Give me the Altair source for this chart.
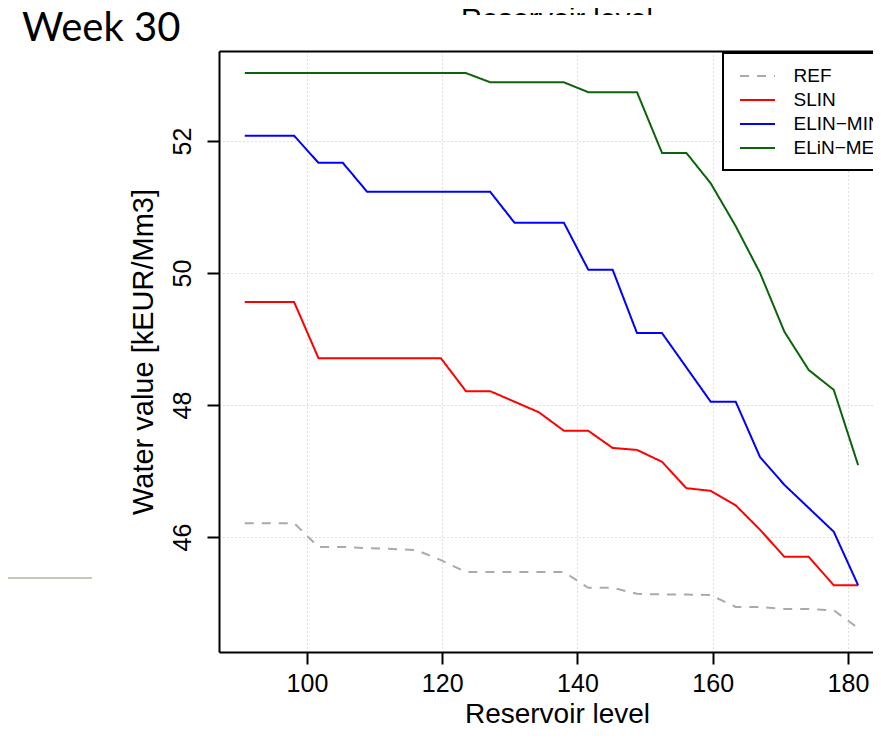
import altair as alt
import pandas as pd

# Reservoir levels (x) shared by all series
levels = [90.8, 94.4, 98.1, 101.7, 105.3, 108.9, 112.6, 116.2, 119.8, 123.5,
          127.1, 130.7, 134.3, 138.0, 141.6, 145.2, 148.8, 152.5, 156.1, 159.7,
          163.4, 167.0, 170.6, 174.2, 177.9, 181.5]

ref = [46.21, 46.21, 46.21, 45.85, 45.85, 45.83, 45.82, 45.80, 45.65, 45.47,
       45.47, 45.47, 45.47, 45.47, 45.23, 45.23, 45.14, 45.13, 45.13, 45.12,
       44.94, 44.94, 44.91, 44.91, 44.89, 44.62]
slin = [49.56, 49.56, 49.56, 48.71, 48.71, 48.71, 48.71, 48.71, 48.71, 48.21,
        48.21, 48.05, 47.89, 47.61, 47.61, 47.35, 47.32, 47.14, 46.74, 46.70,
        46.48, 46.11, 45.70, 45.70, 45.27, 45.27]
elin_min = [52.08, 52.08, 52.08, 51.67, 51.67, 51.23, 51.23, 51.23, 51.23, 51.23,
            51.23, 50.76, 50.76, 50.76, 50.05, 50.05, 49.09, 49.09, 48.57, 48.05,
            48.05, 47.21, 46.79, 46.44, 46.08, 45.27]
elin_med = [53.03, 53.03, 53.03, 53.03, 53.03, 53.03, 53.03, 53.03, 53.03, 53.03,
            52.89, 52.89, 52.89, 52.89, 52.74, 52.74, 52.74, 51.82, 51.82, 51.36,
            50.71, 50.00, 49.11, 48.53, 48.23, 47.09]

series_names = ["REF", "SLIN", "ELIN\u2212MIN", "ELiN\u2212MED"]
series_values = [ref, slin, elin_min, elin_med]
series_colors = ["#aaaaaa", "#ff0000", "#0000ff", "#0b640b"]
series_dashes = [[9, 8], [1, 0], [1, 0], [1, 0]]

x_ticks = [100, 120, 140, 160, 180]
y_ticks = [46, 48, 50, 52]

rows = []
for name, vals in zip(series_names, series_values):
    for lv, v in zip(levels, vals):
        rows.append({"series": name, "level": lv, "value": v})
df = pd.DataFrame(rows)

FONT = "Liberation Sans"

legend = alt.Legend(
    title=None, orient="none", legendX=504, legendY=2,
    fillColor="white", strokeColor="black", padding=12,
    symbolType="M-1.75,0L1.75,0", symbolSize=400, symbolStrokeWidth=2,
    symbolOffset=11.5,
    labelFont=FONT, labelFontSize=19, labelColor="black", labelOffset=25,
    rowPadding=3,
)

x_scale = alt.Scale(domain=[86.99, 183.70], nice=False, zero=False)

x_enc = alt.X(
    "level:Q",
    scale=x_scale,
    axis=alt.Axis(
        orient="bottom",
        values=x_ticks, title="Reservoir level",
        domain=True, domainColor="black", domainWidth=2,
        ticks=True, tickSize=12, tickWidth=2, tickColor="black",
        labelFont=FONT, labelFontSize=25, labelColor="black", labelPadding=7,
        grid=True, gridColor="#bdbdbd", gridDash=[1, 3], gridWidth=1,
        titleFont=FONT, titleFontSize=28, titleFontWeight="normal", titleColor="black",
        titleX=338, titleY=70, titleAlign="center", titleBaseline="alphabetic",
    ),
)
y_enc = alt.Y(
    "value:Q",
    scale=alt.Scale(domain=[44.258, 53.364], nice=False, zero=False),
    axis=alt.Axis(
        orient="left",
        values=y_ticks, title="Water value [kEUR/Mm3]",
        domain=True, domainColor="black", domainWidth=2,
        ticks=True, tickSize=12, tickWidth=2, tickColor="black",
        labelFont=FONT, labelFontSize=25, labelColor="black", labelPadding=12,
        labelAngle=270, labelAlign="center", labelBaseline="bottom",
        grid=True, gridColor="#bdbdbd", gridDash=[1, 3], gridWidth=1,
        titleFont=FONT, titleFontSize=29, titleFontWeight="normal", titleColor="black",
        titleAngle=270, titleX=-67, titleY=300.5, titleAlign="center",
        titleBaseline="alphabetic",
    ),
)

lines = alt.Chart(df).mark_line(strokeWidth=2, clip=True).encode(
    x=x_enc,
    y=y_enc,
    color=alt.Color("series:N", sort=series_names,
                    scale=alt.Scale(domain=series_names, range=series_colors),
                    legend=legend),
    strokeDash=alt.StrokeDash("series:N", sort=series_names,
                              scale=alt.Scale(domain=series_names, range=series_dashes),
                              legend=legend),
)

# top side of the plot box (drawn as a bare top axis on the same scale)
top_border = alt.Chart(df).mark_point(opacity=0).encode(
    x=alt.X("level:Q", scale=x_scale,
            axis=alt.Axis(orient="top", title=None, labels=False, ticks=False,
                          grid=False, domain=True, domainColor="black",
                          domainWidth=2)),
)

one = pd.DataFrame({"t": ["Reservoir level"], "w": ["Week 30"]})

week = alt.Chart(one).mark_text(
    font="Lato", fontSize=40, align="left", baseline="alphabetic", color="black"
).encode(x=alt.value(-197), y=alt.value(-10), text="w:N")

# clipped axis title of the chart above (only its top part shows)
top_text = alt.Chart(one).mark_text(
    font=FONT, fontSize=29, align="center", baseline="alphabetic", color="black"
).encode(x=alt.value(338), y=alt.value(-22), text="t:N")
cover = alt.Chart(one).mark_rect(color="white").encode(
    x=alt.value(180), x2=alt.value(500), y=alt.value(-36), y2=alt.value(-4)
)
side_rule = alt.Chart(one).mark_rule(color="#c8c8b6", strokeWidth=2).encode(
    x=alt.value(-211), x2=alt.value(-127), y=alt.value(527)
)

chart = alt.layer(lines, top_border, top_text, cover, week, side_rule).properties(
    width=654, height=601,
    autosize="none",
    padding={"left": 211, "top": 43, "right": 0, "bottom": 76},
).configure_view(stroke=None).configure_legend(strokeWidth=2)

chart.save("out.html", embed_options={"renderer": "svg", "actions": False})
